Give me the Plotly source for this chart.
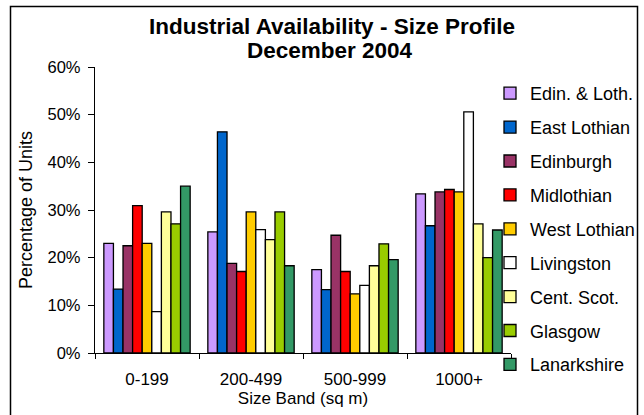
import plotly.graph_objects as go

# Size bands (sq m)
bands = ["0-199", "200-499", "500-999", "1000+"]

# Share of available industrial units in each size band (%)
edin_loth   = [23.0, 25.4, 17.5, 33.4]
east_loth   = [13.4, 46.4, 13.3, 26.7]
edinburgh   = [22.5, 18.8, 24.7, 33.8]
midlothian  = [30.9, 17.1, 17.1, 34.3]
west_loth   = [23.0, 29.6, 12.4, 33.8]
livingston  = [8.7, 25.9, 14.2, 50.6]
cent_scot   = [29.6, 23.8, 18.3, 27.1]
glasgow     = [27.1, 29.6, 22.9, 20.0]
lanarkshire = [35.0, 18.3, 19.6, 25.8]

series = [
    ("Edin. & Loth.", edin_loth, "#CC99FF"),
    ("East Lothian", east_loth, "#0066CC"),
    ("Edinburgh", edinburgh, "#993366"),
    ("Midlothian", midlothian, "#FF0000"),
    ("West Lothian", west_loth, "#FFCC00"),
    ("Livingston", livingston, "#FFFFFF"),
    ("Cent. Scot.", cent_scot, "#FFFF99"),
    ("Glasgow", glasgow, "#99CC00"),
    ("Lanarkshire", lanarkshire, "#339966"),
]

FONT = "Arial, Liberation Sans, sans-serif"
FS = 17

fig = go.Figure()
for name, vals, col in series:
    fig.add_trace(go.Bar(
        x=bands, y=vals, name=name, legendgroup=name,
        marker=dict(color=col, line=dict(color="black", width=1.3)),
    ))

# plot area geometry (pixels) used to place the frame and titles
L, R, T, B = 95, 133, 67, 62
W, H = 644, 415
pw, ph = W - L - R, H - T - B

def px(x):
    return (x - L) / pw

def py(y):
    return (H - B - y) / ph

fig.update_layout(
    width=W, height=H,
    margin=dict(l=L, r=R, t=T, b=B, autoexpand=False),
    paper_bgcolor="white", plot_bgcolor="white",
    font=dict(family=FONT, size=FS, color="black"),
    barmode="group", bargap=0.17, bargroupgap=0,
    showlegend=True,
    legend=dict(
        x=px(490), y=py(75), xanchor="left", yanchor="top",
        traceorder="grouped", tracegroupgap=7.5, maxheight=400,
        font=dict(family=FONT, size=18, color="black"),
        bgcolor="rgba(0,0,0,0)", itemwidth=30,
    ),
    xaxis=dict(
        range=[-0.5, 3.5], showline=True, linecolor="black", linewidth=1.3,
        ticks="outside", tickson="boundaries", ticklen=5, tickcolor="black",
        showgrid=False, zeroline=False, ticklabelstandoff=10,
        tickfont=dict(size=FS),
        title=dict(text="Size Band (sq m)", font=dict(size=FS), standoff=0),
    ),
    yaxis=dict(
        range=[0, 60], dtick=10, ticksuffix="%",
        showline=True, linecolor="black", linewidth=1.3,
        ticks="outside", ticklen=6, tickcolor="black",
        showgrid=False, zeroline=False, ticklabelstandoff=4,
        tickfont=dict(size=16.5),
        title=dict(text="Percentage of Units", font=dict(size=18), standoff=10),
    ),
    annotations=[
        dict(text="<b>Industrial Availability - Size Profile</b>",
             xref="paper", yref="paper", x=px(332), y=py(26),
             xanchor="center", yanchor="middle", showarrow=False,
             font=dict(family=FONT, size=22.5, color="black")),
        dict(text="<b>December 2004</b>",
             xref="paper", yref="paper", x=px(330), y=py(51),
             xanchor="center", yanchor="middle", showarrow=False,
             font=dict(family=FONT, size=22.5, color="black")),
    ],
    shapes=[
        dict(type="rect", xref="paper", yref="paper",
             x0=px(10.5), x1=px(637.5), y0=py(440), y1=py(6.5),
             line=dict(color="black", width=1.5), fillcolor="rgba(0,0,0,0)",
             layer="below"),
    ],
)

fig.write_html("out.html")
